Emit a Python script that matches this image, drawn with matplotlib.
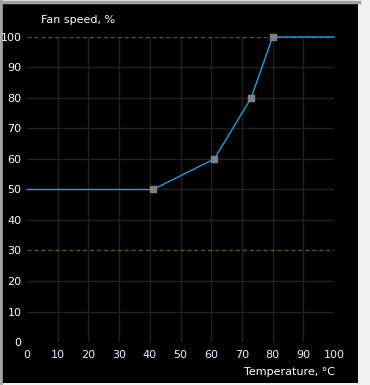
"""Fan curve: fan speed vs temperature"""

import matplotlib
matplotlib.use("Agg")
import matplotlib.pyplot as plt
from matplotlib.patches import Rectangle
from matplotlib.lines import Line2D

# curve data
temps = [0, 41, 61, 73, 80, 100]
speeds = [50, 50, 60, 80, 100, 100]
# editable points (gray squares)
point_temps = [41, 61, 73, 80]
point_speeds = [50, 60, 80, 100]

x_ticks = list(range(0, 101, 10))
y_ticks = list(range(0, 101, 10))
limit_lines = [30, 100]

W, H = 370, 385
fig = plt.figure(figsize=(W / 100, H / 100), dpi=100, facecolor="#f0f0f0")

# black panel with a gray edge at top and left
fig.patches.append(Rectangle((2 / W, 1 - 383 / H), 356 / W, 380 / H,
                             transform=fig.transFigure, facecolor="black",
                             edgecolor="none", zorder=-10))
fig.lines.append(Line2D([1 / W, 1 / W], [1 - 383 / H, 1 - 1 / H],
                        transform=fig.transFigure, color="#a0a0a0", lw=2, zorder=-5))
fig.lines.append(Line2D([1 / W, 359 / W], [1 - 1.5 / H, 1 - 1.5 / H],
                        transform=fig.transFigure, color="#a0a0a0", lw=2.5, zorder=-5))

ax = fig.add_axes([27 / W, 1 - 342 / H, 307 / W, 305 / H])
ax.set_zorder(1)
ax.patch.set_alpha(0)
ax.set_xlim(0, 100)
ax.set_ylim(0, 100)
for s in ax.spines.values():
    s.set_visible(False)

for x in x_ticks[1:]:
    ax.axvline(x, color="#222222", lw=1, zorder=1)
for y in y_ticks:
    if y in limit_lines:
        ax.axhline(y, color="#5a5a28", lw=1, ls=(0, (3, 2)), zorder=1)
    else:
        ax.axhline(y, color="#222222", lw=1, zorder=1)

ax.plot(temps, speeds, color="#18a0f0", lw=1, zorder=3, clip_on=False)
ax.plot(point_temps, point_speeds, ls="none", marker="s", ms=4.8,
        color="#808080", zorder=4, clip_on=False)

ax.set_xticks(x_ticks)
ax.set_yticks(y_ticks)
ax.tick_params(length=0, colors="white", labelsize=8)
ax.tick_params(axis="x", pad=6)
ax.tick_params(axis="y", pad=4)
for lab in ax.get_xticklabels():
    lab.set_color("#e8f0ff")

fig.text(41 / W, 1 - 20 / H, "Fan speed, %", color="white", fontsize=8,
         va="center", ha="left")
fig.text(335 / W, 1 - 372 / H, "Temperature, °C", color="white", fontsize=8,
         va="center", ha="right")

fig.savefig("out.png", dpi=100, facecolor=fig.get_facecolor())
